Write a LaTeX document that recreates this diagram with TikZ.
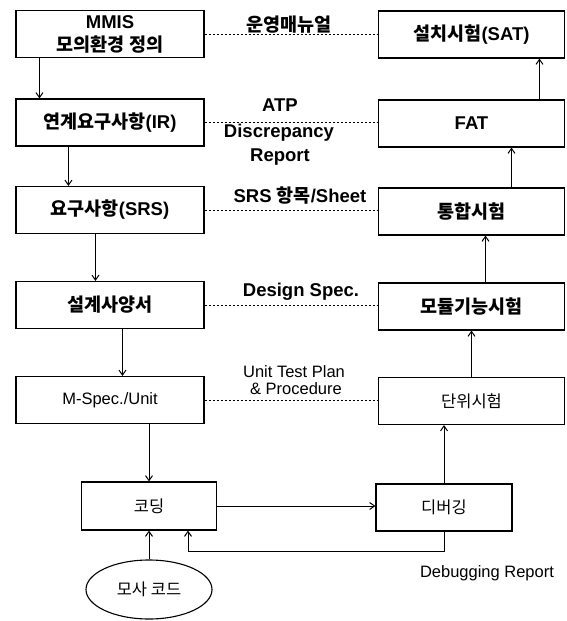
\documentclass[tikz,border=0pt]{standalone}
\usepackage{fontspec}
\setmainfont{Liberation Sans}
\newfontfamily\kr{Noto Sans CJK KR}
\usetikzlibrary{arrows.meta,shapes.geometric}
\newcommand{\hg}[1]{{\kr #1}}
\begin{document}
\begin{tikzpicture}[x=1pt,y=-1pt,
  box/.style={draw,line width=1.1pt,minimum width=188pt,minimum height=47pt,inner sep=0pt,align=center},
  rbox/.style={box,minimum width=186pt},
  sbox/.style={draw,line width=1.1pt,minimum width=135pt,minimum height=48pt,inner sep=0pt,align=center},
  big/.style={font=\fontsize{18.5}{24}\selectfont\bfseries},
  small/.style={font=\fontsize{16.5}{18}\selectfont},
  lbl/.style={inner sep=0pt,align=center},
  arr/.style={line width=1pt,-{Straight Barb[length=5pt,width=7pt]}},
  dashln/.style={line width=0.8pt,dash pattern=on 2.5pt off 1.5pt}]
\useasboundingbox (0,0) rectangle (566,621);
% left column
\node[box,big] (mmis) at (110,34) {MMIS\\[-1pt]\hg{모의환경 정의}};
\node[box,big] (ir) at (110,122.5) {\hg{연계요구사항}(IR)};
\node[box,big] (srs) at (110,210) {\hg{요구사항}(SRS)};
\node[box,big] (des) at (110,305) {\hg{설계사양서}};
\node[box,small] (mspec) at (110,400) {M-Spec./Unit};
\node[sbox,small] (cod) at (149,506) {\hg{코딩}};
\node[draw,line width=1.1pt,ellipse,minimum width=126pt,minimum height=59pt,inner sep=0pt,small] (sim) at (149,589.5) {\hg{모사 코드}};
% right column
\node[rbox,big] (sat) at (471.5,34.5) {\hg{설치시험}(SAT)};
\node[rbox,big] (fat) at (471.5,123.5) {FAT};
\node[rbox,big] (int) at (471.5,211.5) {\hg{통합시험}};
\node[rbox,big] (mod) at (471.5,306.5) {\hg{모듈기능시험}};
\node[rbox,small] (unit) at (471.5,401) {\hg{단위시험}};
\node[sbox,small,minimum width=136pt,minimum height=47pt] (dbg) at (444,507.5) {\hg{디버깅}};
% labels
\node[lbl,big] (l1) at (289,25) {\hg{운영매뉴얼}};
\node[lbl,big] (l2) at (280,105) {ATP};
\node[lbl,big] (l3) at (279,133) {Discrepancy};
\node[lbl,big] (l4) at (280,157) {Report};
\node[lbl,big] (l5) at (300,196) {SRS \hg{항목}/Sheet};
\node[lbl,big] (l6) at (301,292) {Design Spec.};
\node[lbl,small] (l7) at (294,372) {Unit Test Plan};
\node[lbl,small] (l8) at (296,389) {\& Procedure};
\node[lbl,small] (l9) at (487,573) {Debugging Report};
% dashed links
\draw[dashln] (mmis.east) -- (mmis.east -| sat.west);
\draw[dashln] (ir.east) -- (ir.east -| fat.west);
\draw[dashln] (srs.east) -- (srs.east -| int.west);
\draw[dashln] (des.east) -- (des.east -| mod.west);
\draw[dashln] (mspec.east) -- (mspec.east -| unit.west);
% left arrows
\draw[arr] ([xshift=24pt]mmis.south west) -- ([xshift=24pt]ir.north west);
\draw[arr] ([xshift=53pt]ir.south west) -- ([xshift=53pt]srs.north west);
\draw[arr] ([xshift=80pt]srs.south west) -- ([xshift=80pt]des.north west);
\draw[arr] ([xshift=107pt]des.south west) -- ([xshift=107pt]mspec.north west);
\draw[arr] (cod.north |- mspec.south) -- (cod.north);
\draw[arr] (sim.north) -- (cod.south);
\draw[arr] (cod.east) -- (cod.east -| dbg.west);
\draw[arr] (dbg.south) -- ++(0,20) -| ([xshift=39pt]cod.south);
% right arrows
\draw[arr] (dbg.north) -- (dbg.north |- unit.south);
\draw[arr] (unit.north) -- (mod.south);
\draw[arr] ([xshift=14pt]mod.north) -- ([xshift=14pt]int.south);
\draw[arr] ([xshift=40pt]int.north) -- ([xshift=40pt]fat.south);
\draw[arr] ([xshift=68pt]fat.north) -- ([xshift=68pt]sat.south);
\end{tikzpicture}
\end{document}
